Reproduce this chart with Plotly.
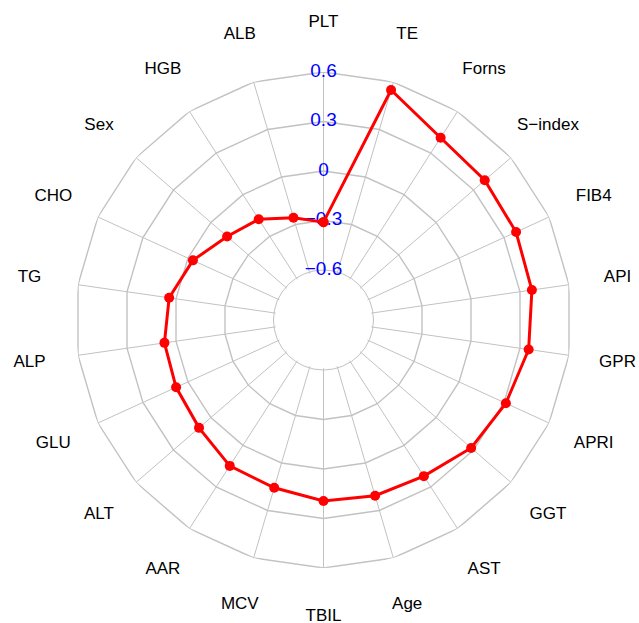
import plotly.graph_objects as go

categories = ["PLT", "TE", "Forns", "S-index", "FIB4", "API", "GPR", "APRI", "GGT",
              "AST", "Age", "TBIL", "MCV", "AAR", "ALT", "GLU", "ALP", "TG", "CHO",
              "Sex", "HGB", "ALB"]
category_text = ["PLT", "TE", "Forns", "S\u2212index", "FIB4", "API", "GPR", "APRI", "GGT",
                 "AST", "Age", "TBIL", "MCV", "AAR", "ALT", "GLU", "ALP", "TG", "CHO",
                 "Sex", "HGB", "ALB"]
values = [-0.31, 0.55, 0.41, 0.39, 0.38, 0.373, 0.353, 0.312, 0.281, 0.222, 0.207,
          0.194, 0.157, 0.148, 0.095, 0.079, 0.071, 0.042, -0.033, -0.13, -0.177, -0.257]
radial_ticks = [-0.6, -0.3, 0, 0.3, 0.6]
radial_tick_text = ["\u22120.6", "\u22120.3", "0", "0.3", "0.6"]

FONT = "Liberation Sans, Arial, sans-serif"
GRID = "#c2c2c2"
R_MIN, R_MAX = -0.61, 0.6    # small pad below -0.6 so the hole ring gets drawn
HOLE = 0.195
R = 248          # web outer radius, px
R_LAB = 306      # radius of the label overlay, px
LABEL_PX = 300   # distance of category labels from the centre, px

fig = go.Figure()

# polygon web rings (one closed ring per radial tick above the hole)
for t in radial_ticks[1:]:
    fig.add_trace(go.Scatterpolar(
        r=[t] * (len(categories) + 1),
        theta=categories + [categories[0]],
        mode="lines",
        line=dict(color=GRID, width=1.4),
        showlegend=False, hoverinfo="skip",
    ))

# radial tick labels on the PLT spoke
fig.add_trace(go.Scatterpolar(
    r=radial_ticks,
    theta=[categories[0]] * len(radial_ticks),
    mode="text",
    text=radial_tick_text,
    textfont=dict(color="#0000ff", size=19, family=FONT),
    textposition="middle center",
    cliponaxis=False,
    showlegend=False, hoverinfo="skip",
))

# data
fig.add_trace(go.Scatterpolar(
    r=values + [values[0]],
    theta=categories + [categories[0]],
    mode="lines+markers",
    line=dict(color="#ff0000", width=3),
    marker=dict(color="#ff0000", size=10),
    showlegend=False,
))

# category labels on an overlay polar with a plain 0..1 radial scale
fig.add_trace(go.Scatterpolar(
    r=[LABEL_PX / R_LAB] * len(categories),
    theta=categories,
    mode="text",
    text=category_text,
    textfont=dict(color="black", size=17, family=FONT),
    textposition="middle center",
    subplot="polar2",
    showlegend=False, hoverinfo="skip",
))

cx, cy = 323.5, 320
W, H = 639, 623


def dom(rad, dy=0.0):
    c_y = cy + dy
    return dict(x=[max(0, (cx - rad) / W), min(1, (cx + rad) / W)],
                y=[max(0, (H - c_y - rad) / H), min(1, (H - c_y + rad) / H)])


angular_common = dict(direction="clockwise", rotation=90,
                      categoryorder="array", categoryarray=categories)

fig.update_layout(
    width=W, height=H,
    margin=dict(l=0, r=0, t=0, b=0),
    paper_bgcolor="white",
    plot_bgcolor="white",
    font=dict(family=FONT, size=16, color="black"),
    polar=dict(
        domain=dom(R),
        bgcolor="white",
        hole=HOLE,
        gridshape="circular",
        radialaxis=dict(
            range=[R_MIN, R_MAX],
            tickvals=[radial_ticks[0]],
            showticklabels=False,
            ticks="",
            showline=False,
            showgrid=True,
            gridcolor=GRID,
            gridwidth=1.4,
            angle=90,
        ),
        angularaxis=dict(
            **angular_common,
            showgrid=True,
            gridcolor=GRID,
            gridwidth=1.4,
            showline=False,
            showticklabels=False,
            ticks="",
        ),
    ),
    polar2=dict(
        domain=dom(R_LAB, dy=3),
        bgcolor="rgba(0,0,0,0)",
        radialaxis=dict(range=[0, 1], visible=False, showgrid=False),
        angularaxis=dict(**angular_common, showgrid=False, showline=False,
                         showticklabels=False, ticks=""),
    ),
)

fig.write_html(
    "out.html",
    config={"displayModeBar": False},
    post_script="document.body.style.margin='0px';document.body.style.overflow='hidden';",
)
